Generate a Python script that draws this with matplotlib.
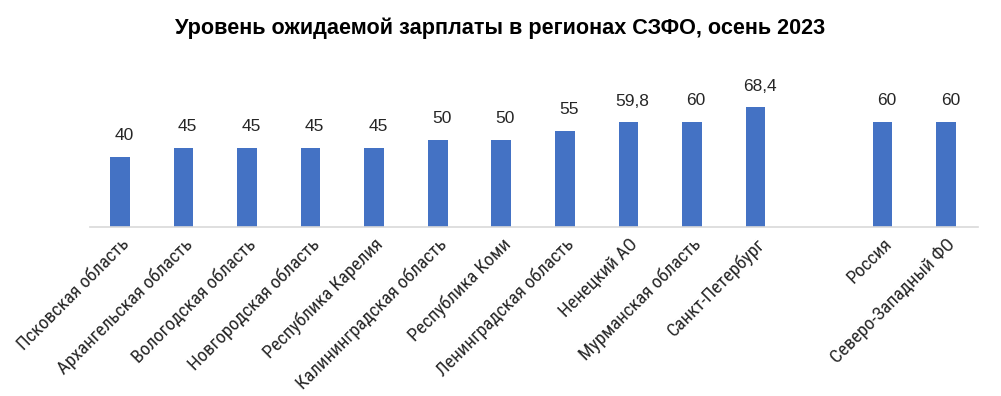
import matplotlib.pyplot as plt
from matplotlib import font_manager

regions = ['Псковская область', 'Архангельская область', 'Вологодская область',
           'Новгородская область', 'Республика Карелия', 'Калининградская область',
           'Республика Коми', 'Ленинградская область', 'Ненецкий АО',
           'Мурманская область', 'Санкт-Петербург', 'Россия', 'Северо-Западный ФО']
salary = [40, 45, 45, 45, 45, 50, 50, 55, 59.8, 60, 68.4, 60, 60]
# empty slot between the regions and the totals
positions = list(range(11)) + [12, 13]

names = {f.name for f in font_manager.fontManager.ttflist}
narrow = 'Liberation Sans Narrow'
for cand in ['Liberation Sans Narrow', 'Arial Narrow', 'Roboto Condensed', 'Archivo Narrow']:
    if cand in names:
        narrow = cand
        break
plt.rcParams['font.family'] = ['Liberation Sans', 'DejaVu Sans']

fig = plt.figure(figsize=(10.01, 3.96), dpi=100)
ax = fig.add_axes([0.09, 0.427, 0.887, 0.353])

ax.bar(positions, salary, width=0.31, color='#4472C4', zorder=2)
for x, v in zip(positions, salary):
    label = ('%g' % v).replace('.', ',')
    ax.annotate(label, (x, v), xytext=(3, 10), textcoords='offset points',
                ha='center', va='bottom', fontsize=12.5, color='#262626')

ax.set_xlim(-0.47, 13.5)
ax.set_ylim(0, 80)
ax.set_yticks([])
ax.set_xticks(positions)
ax.set_xticklabels(regions, rotation=45, ha='right', rotation_mode='anchor',
                   fontsize=13.5, color='#262626', family=[narrow, 'Liberation Sans'])
ax.tick_params(axis='x', length=0, pad=6)
for side in ['top', 'right', 'left']:
    ax.spines[side].set_visible(False)
ax.spines['bottom'].set_color('#D9D9D9')
ax.spines['bottom'].set_linewidth(1.2)

fig.suptitle('Уровень ожидаемой зарплаты в регионах СЗФО, осень 2023',
             x=0.5, y=0.955, fontsize=15.6, fontweight='bold')

fig.savefig('out.png', dpi=100)
